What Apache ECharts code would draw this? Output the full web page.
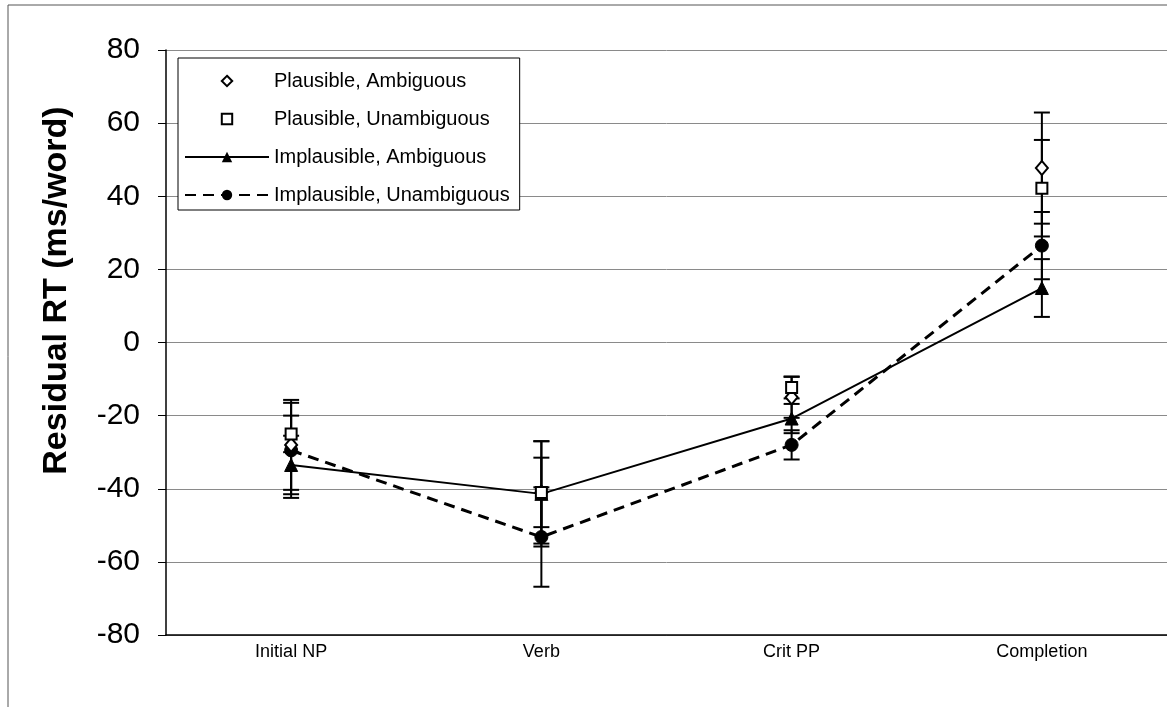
<!DOCTYPE html>
<html>
<head>
<meta charset="utf-8">
<script src="https://cdn.jsdelivr.net/npm/echarts@6/dist/echarts.min.js"></script>
<style>
html,body{margin:0;padding:0;background:#fff;}
#c{width:1167px;height:707px;}
</style>
</head>
<body>
<div id="c"></div>
<script>
const categories = ['Initial NP', 'Verb', 'Crit PP', 'Completion'];
const yTicks = [-80, -60, -40, -20, 0, 20, 40, 60, 80];
const seriesNames = ['Plausible, Ambiguous', 'Plausible, Unambiguous', 'Implausible, Ambiguous', 'Implausible, Unambiguous'];
const plausAmbig = [-28, -41, -15, 47.7];
const plausAmbigErr = [12.3, 9.5, 5.6, 15.2];
const plausUnambig = [-25, -41, -12.3, 42.2];
const plausUnambigErr = [5, 14, 3, 13.2];
const implAmbig = [-33.5, -41.4, -20.8, 14.9];
const implAmbigErr = [8, 14.4, 4, 7.9];
const implUnambig = [-29.5, -53.2, -28, 26.5];
const implUnambigErr = [13, 13.6, 4, 9.2];

const FONT = "'Liberation Sans', Arial, sans-serif";

function errData(vals, errs) {
  return vals.map((v, i) => [i, v - errs[i], v + errs[i]]);
}
function errSeries(vals, errs) {
  return {
    type: 'custom',
    name: 'err',
    z: 1,
    silent: true,
    data: errData(vals, errs),
    renderItem: function (params, api) {
      const x = api.value(0);
      const lo = api.coord([x, api.value(1)]);
      const hi = api.coord([x, api.value(2)]);
      const w = 8;
      const st = { stroke: '#000', lineWidth: 2 };
      return {
        type: 'group',
        children: [
          { type: 'line', shape: { x1: lo[0], y1: lo[1], x2: hi[0], y2: hi[1] }, style: st },
          { type: 'line', shape: { x1: lo[0] - w, y1: lo[1], x2: lo[0] + w, y2: lo[1] }, style: st },
          { type: 'line', shape: { x1: hi[0] - w, y1: hi[1], x2: hi[0] + w, y2: hi[1] }, style: st }
        ]
      };
    }
  };
}

const chart = echarts.init(document.getElementById('c'), null, { renderer: 'canvas' });
chart.setOption({
  animation: false,
  backgroundColor: '#fff',
  textStyle: { fontFamily: FONT, color: '#000' },
  graphic: [{
    type: 'rect', silent: true, z: -10,
    shape: { x: 8, y: 5, width: 1200, height: 760 },
    style: { fill: 'none', stroke: '#555', lineWidth: 1 }
  }],
  grid: { left: 166, top: 50, width: 1008, height: 585 },
  legend: {
    data: seriesNames,
    orient: 'vertical',
    left: 178, top: 58,
    itemWidth: 84, itemHeight: 13, itemGap: 18,
    padding: [13, 10, 5, 6],
    borderColor: '#000', borderWidth: 1,
    backgroundColor: '#fff',
    textStyle: { fontSize: 20, color: '#000', fontFamily: FONT }
  },
  xAxis: {
    type: 'category',
    data: categories,
    boundaryGap: true,
    axisLine: { onZero: false, lineStyle: { color: '#000', width: 1.5 } },
    axisTick: { show: false },
    axisLabel: { fontSize: 18, color: '#000', margin: 8, fontFamily: FONT },
    splitLine: { show: false }
  },
  yAxis: {
    type: 'value',
    min: -80, max: 80, interval: 20,
    name: 'Residual RT (ms/word)',
    nameLocation: 'middle',
    nameGap: 92,
    nameRotate: 90,
    nameTextStyle: { fontSize: 34, fontWeight: 'bold', color: '#000', fontFamily: FONT, padding: [0, 0, 0, 104] },
    axisLine: { show: true, lineStyle: { color: '#000', width: 1.5 } },
    axisTick: { show: true, length: 8, lineStyle: { color: '#000' } },
    axisLabel: {
      fontSize: 30, color: '#000', margin: 26, fontFamily: FONT,
      formatter: function (v) { return yTicks.indexOf(v) >= 0 ? String(v) : ''; }
    },
    splitLine: { show: true, lineStyle: { color: '#8a8a8a', width: 1 } }
  },
  series: [
    errSeries(plausAmbig, plausAmbigErr),
    errSeries(plausUnambig, plausUnambigErr),
    errSeries(implAmbig, implAmbigErr),
    errSeries(implUnambig, implUnambigErr),
    {
      name: seriesNames[0], type: 'line', data: plausAmbig, z: 5,
      lineStyle: { width: 0, opacity: 0 },
      symbol: 'diamond', symbolSize: [12, 14],
      itemStyle: { color: '#fff', borderColor: '#000', borderWidth: 2 }
    },
    {
      name: seriesNames[1], type: 'line', data: plausUnambig, z: 5,
      lineStyle: { width: 0, opacity: 0 },
      symbol: 'rect', symbolSize: 11,
      itemStyle: { color: '#fff', borderColor: '#000', borderWidth: 2 }
    },
    {
      name: seriesNames[2], type: 'line', data: implAmbig, z: 4,
      lineStyle: { width: 2, color: '#000', type: 'solid' },
      symbol: 'triangle', symbolSize: 13,
      itemStyle: { color: '#000', borderColor: '#000' }
    },
    {
      name: seriesNames[3], type: 'line', data: implUnambig, z: 4,
      lineStyle: { width: 3, color: '#000', type: [11, 7] },
      symbol: 'circle', symbolSize: 13,
      itemStyle: { color: '#000', borderColor: '#000' }
    }
  ]
});
</script>
</body>
</html>
